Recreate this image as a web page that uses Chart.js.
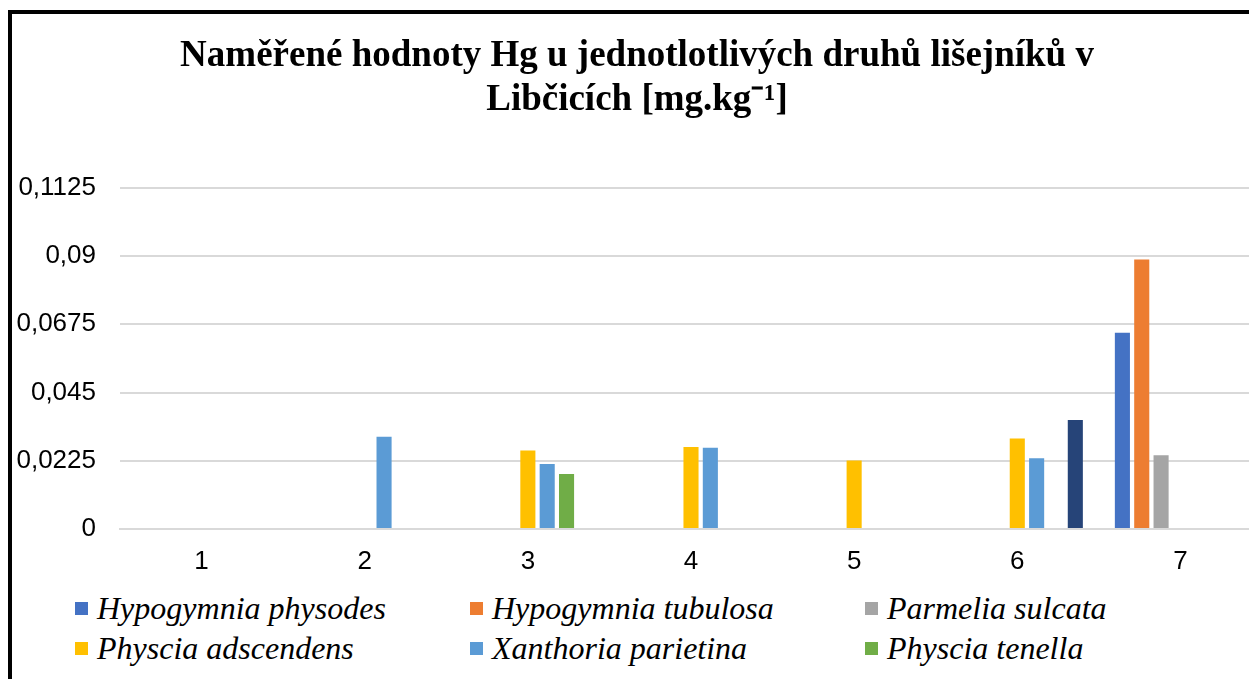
<!DOCTYPE html>
<html>
<head>
<meta charset="utf-8">
<script src="https://cdn.jsdelivr.net/npm/chart.js@4/dist/chart.umd.min.js"></script>
<style>
  html, body { margin: 0; padding: 0; background: #fff; overflow: hidden; width: 1249px; height: 679px; }
  .frame { position: absolute; left: 8px; top: 10px; width: 1300px; height: 720px; border: 4px solid #000; box-sizing: border-box; }
  #wrap { position: absolute; left: 12px; top: 14px; width: 1250px; height: 565px; }
  #legend { position: absolute; left: 75px; top: 588px; display: grid; grid-template-columns: 395px 395px 395px; grid-auto-rows: 40px; }
  .item { display: flex; align-items: center; font-family: 'Liberation Serif', 'Times New Roman', serif; font-style: italic; font-size: 32px; color: #000; white-space: nowrap; }
  .box { width: 13px; height: 13px; margin-right: 9px; flex: none; }
</style>
</head>
<body>
<div class="frame"></div>
<div id="wrap"><canvas id="chart"></canvas></div>
<div id="legend"></div>
<script>
// Categories (sampling sites)
const sites = ['1', '2', '3', '4', '5', '6', '7'];

// Hg values [mg/kg] per lichen species
const hypogymniaPhysodes = [null, null, null, null, null, null, 0.0647];
const hypogymniaTubulosa = [null, null, null, null, null, null, 0.0889];
const parmeliaSulcata = [null, null, null, null, null, null, 0.0243];
const physciaAdscendens = [null, null, 0.0259, 0.0270, 0.0226, 0.0298, null];
const xanthoriaParietina = [null, 0.0304, 0.0214, 0.0268, null, 0.0233, null];
const physciaTenella = [null, null, 0.0181, null, null, null, null];
const otherSpecies = [null, null, null, null, null, 0.0359, null]; // legend entry cut off in the source

const speciesNames = ['Hypogymnia physodes', 'Hypogymnia tubulosa', 'Parmelia sulcata',
    'Physcia adscendens', 'Xanthoria parietina', 'Physcia tenella', ''];
const speciesColors = ['#4472C4', '#ED7D31', '#A5A5A5', '#FFC000', '#5B9BD5', '#70AD47', '#264478'];

// Y axis ticks
const yMax = 0.1125;
const yStep = 0.0225;

const seriesValues = [hypogymniaPhysodes, hypogymniaTubulosa, parmeliaSulcata,
    physciaAdscendens, xanthoriaParietina, physciaTenella, otherSpecies];

const ctx = document.getElementById('chart').getContext('2d');
const chart = new Chart(ctx, {
    type: 'bar',
    data: {
        labels: sites,
        datasets: seriesValues.map((vals, i) => ({
            label: speciesNames[i],
            data: vals,
            backgroundColor: speciesColors[i],
            borderWidth: 0,
            categoryPercentage: 0.83,
            barPercentage: 0.78
        }))
    },
    options: {
        responsive: true,
        maintainAspectRatio: false,
        animation: false,
        layout: { padding: { left: 0, right: 0, top: 0, bottom: 0 } },
        plugins: {
            legend: { display: false },
            tooltip: { enabled: false },
            title: {
                display: true,
                text: ['Naměřené hodnoty Hg u jednotlotlivých druhů lišejníků v', 'Libčicích [mg.kg⁻¹]'],
                color: '#000',
                font: { family: "'Liberation Serif', 'Times New Roman', serif", size: 37, weight: 'bold', lineHeight: 1.2 },
                padding: { top: 20, bottom: 65 }
            }
        },
        scales: {
            x: {
                grid: { display: false, drawTicks: false },
                border: { display: true, color: '#d9d9d9', width: 2 },
                ticks: { color: '#000', font: { family: "'Liberation Sans', Arial, sans-serif", size: 26 }, padding: 17 },
                afterFit: s => { s.height = 50; }
            },
            y: {
                min: 0,
                max: yMax,
                grid: { color: '#d9d9d9', lineWidth: 2, drawTicks: false },
                border: { display: false },
                ticks: {
                    stepSize: yStep,
                    color: '#000',
                    padding: 24,
                    font: { family: "'Liberation Sans', Arial, sans-serif", size: 26 },
                    callback: v => String(+v.toFixed(4)).replace('.', ',')
                },
                afterFit: s => { s.width = 108; }
            }
        }
    }
});

// HTML legend built from the chart datasets (the 7th entry lies outside the cropped picture)
const legendEl = document.getElementById('legend');
chart.data.datasets.forEach(ds => {
    if (!ds.label) return;
    const item = document.createElement('div');
    item.className = 'item';
    const box = document.createElement('span');
    box.className = 'box';
    box.style.background = ds.backgroundColor;
    item.appendChild(box);
    item.appendChild(document.createTextNode(ds.label));
    legendEl.appendChild(item);
});
</script>
</body>
</html>
